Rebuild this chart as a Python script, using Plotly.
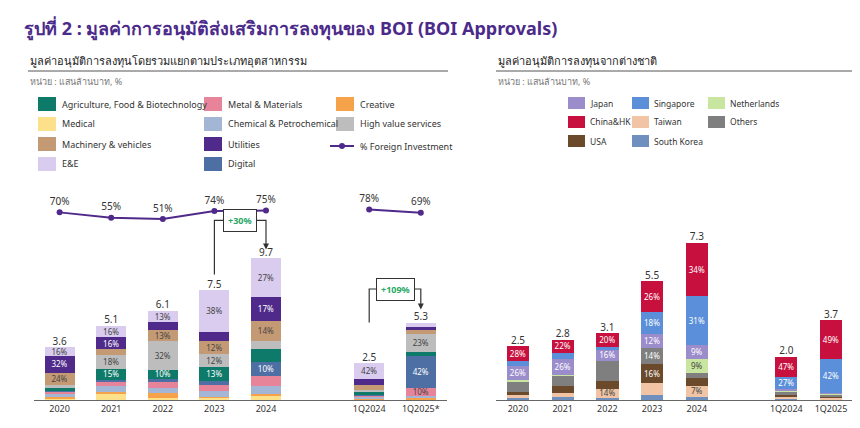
import plotly.graph_objects as go

periods = ["2020", "2021", "2022", "2023", "2024", " ", "1Q2024", "1Q2025*"]
periods_r = ["2020", "2021", "2022", "2023", "2024", " ", "1Q2024", "1Q2025"]

# left: total approvals (แสนล้านบาท) and industry shares (%)
totals_l = [3.6, 5.1, 6.1, 7.5, 9.7, None, 2.5, 5.3]
foreign_pct = [70, 55, 51, 74, 75, None, 78, 69]
industries = {
    "Medical":                          [3, 8, 2, 2, 3, None, 2, 1],
    "Creative":                         [3, 3, 6, 1, 1, None, 1, 1],
    "Chemical & Petrochemical":         [5, 8, 6, 5, 6, None, 6, 3],
    "Metal & Materials":                [5, 6, 6, 6, 7, None, 4, 10],
    "Digital":                          [2, 2, 4, 3, 10, None, 2, 42],
    "Agriculture, Food & Biotechnology": [5, 15, 10, 13, 9, None, 8, 5],
    "High value services":              [5, 18, 32, 12, 6, None, 5, 23],
    "Machinery & vehicles":             [24, 8, 13, 12, 14, None, 14, 5],
    "Utilities":                        [32, 16, 8, 8, 17, None, 16, 4],
    "E&E":                              [16, 16, 13, 38, 27, None, 42, 6],
}
ind_colors = {
    "Agriculture, Food & Biotechnology": "#0e7a6a", "Medical": "#fde08a",
    "Machinery & vehicles": "#c49a74", "E&E": "#d9ccef",
    "Metal & Materials": "#e8849a", "Chemical & Petrochemical": "#a3b6d6",
    "Utilities": "#4f2a8a", "Digital": "#4e6fa3",
    "Creative": "#f5a24b", "High value services": "#bdbdbd",
}
dark_l = {"Agriculture, Food & Biotechnology", "Utilities", "Digital"}

# right: foreign approvals and country shares (%)
totals_r = [2.5, 2.8, 3.1, 5.5, 7.3, None, 2.0, 3.7]
countries = {
    "South Korea": [3, 5, 3, 4, 2, None, 3, 1],
    "Taiwan":      [6, 6, 14, 10, 7, None, 4, 2],
    "USA":         [6, 12, 12, 16, 5, None, 5, 2],
    "Others":      [18, 17, 30, 14, 3, None, 8, 2],
    "Netherlands": [5, 2, 0, 0, 9, None, 1, 1],
    "Japan":       [26, 26, 16, 12, 9, None, 5, 1],
    "Singapore":   [8, 10, 5, 18, 31, None, 27, 42],
    "China&HK":    [28, 22, 20, 26, 34, None, 47, 49],
}
# segments whose share is printed in the reference
labelled_r = {
    "Taiwan": [2, 4], "USA": [3], "Others": [3], "Netherlands": [4],
    "Japan": [0, 1, 2, 3, 4], "Singapore": [3, 4, 6, 7], "China&HK": [0, 1, 2, 3, 4, 6, 7],
}
cty_colors = {
    "Japan": "#9b8ccc", "China&HK": "#c8103e", "USA": "#6b4a2b",
    "Singapore": "#5b8fd9", "Taiwan": "#f0c4a4", "South Korea": "#6f8fbf",
    "Netherlands": "#c8e6a0", "Others": "#7f7f7f",
}
dark_r = {"China&HK", "USA", "Singapore", "South Korea", "Others", "Japan"}

FONT = "Noto Sans"
W, H = 860, 428


def py(px):
    return 1 - px / H


def pxx(px):
    return px / W


fig = go.Figure()


def add_stack(data, colors, dark, totals, cats, xa, ya, width, show):
    for name, shares in data.items():
        y = [None if s is None or t is None else t * s / 100 for s, t in zip(shares, totals)]
        txt = [f"{s}%" if show(name, i, s) else "" for i, s in enumerate(shares)]
        fig.add_bar(x=cats, y=y, name=name, marker_color=colors[name], marker_line_width=0,
                    width=width, text=txt, textposition="inside", insidetextanchor="middle",
                    textangle=0, textfont=dict(size=9, color="white" if name in dark else "#444"),
                    xaxis=xa, yaxis=ya, showlegend=False, hoverinfo="skip")
    fig.add_scatter(x=cats, y=totals, mode="text", text=[f"{t}" if t else "" for t in totals],
                    textposition="top center", textfont=dict(size=10, color="#333"),
                    xaxis=xa, yaxis=ya, showlegend=False)


add_stack(industries, ind_colors, dark_l, totals_l, periods, "x", "y", 0.58,
          lambda n, i, s: s is not None and s >= 10 and n != "Medical" and (i != 6 or n == "E&E"))
add_stack(countries, cty_colors, dark_r, totals_r, periods_r, "x2", "y3", 0.5,
          lambda n, i, s: i in labelled_r.get(n, []))

fig.add_scatter(x=periods, y=foreign_pct, mode="lines+markers+text",
                text=[f"{v}%" if v else "" for v in foreign_pct], textposition="top center",
                textfont=dict(size=10, color="#333"), line=dict(color="#4f2a8a", width=2),
                marker=dict(size=6, color="#4f2a8a"), connectgaps=False,
                xaxis="x", yaxis="y2", showlegend=False)

axis_common = dict(showgrid=False, zeroline=False)
fig.update_layout(
    width=W, height=H, margin=dict(l=0, r=0, t=0, b=0),
    paper_bgcolor="white", plot_bgcolor="white", barmode="stack",
    uniformtext=dict(minsize=8, mode="show"),
    font=dict(family=FONT, size=10, color="#333"),
    xaxis=dict(domain=[0.03, 0.51], anchor="y", type="category", showline=True,
               linecolor="#666", ticks="", tickfont=dict(size=9), **axis_common),
    yaxis=dict(domain=[py(392), py(170)], range=[0, 15.2], visible=False, **axis_common),
    yaxis2=dict(overlaying="y", range=[-465, 168], visible=False, **axis_common),
    xaxis2=dict(domain=[0.567, 0.983], anchor="y3", type="category", showline=True,
                linecolor="#666", ticks="", tickfont=dict(size=9), **axis_common),
    yaxis3=dict(domain=[py(392), py(170)], range=[0, 10.3], visible=False, **axis_common),
)

ann = []
shapes = []


def note(x, y, text, size, color="#333", **kw):
    ann.append(dict(x=pxx(x), y=py(y), xref="paper", yref="paper", xanchor="left",
                    yanchor="middle", showarrow=False, text=text,
                    font=dict(size=size, color=color), **kw))


note(14, 20, "<b>รูปที่ 2 : มูลค่าการอนุมัติส่งเสริมการลงทุนของ BOI (BOI Approvals)</b>", 18, "#4b2a8a")
for x0, x1, sub in [(20, 440, "มูลค่าอนุมัติการลงทุนโดยรวมแยกตามประเภทอุตสาหกรรม"),
                    (488, 845, "มูลค่าอนุมัติการลงทุนจากต่างชาติ")]:
    note(x0, 52, sub, 11, "#222")
    note(x0, 74, "หน่วย : แสนล้านบาท, %", 9, "#777")
    shapes.append(dict(type="line", xref="paper", yref="paper", x0=pxx(x0), x1=pxx(x1),
                       y0=py(63), y1=py(63), line=dict(color="#555", width=1)))

# legends drawn as swatches
leg_l = [["Agriculture, Food & Biotechnology", "Metal & Materials", "Creative"],
         ["Medical", "Chemical & Petrochemical", "High value services"],
         ["Machinery & vehicles", "Utilities", None],
         ["E&E", "Digital", None]]
cols_l = [30, 196, 328]
for r, row in enumerate(leg_l):
    yc = 96 + r * 20
    for c, name in enumerate(row):
        if name is None:
            continue
        x0 = cols_l[c]
        shapes.append(dict(type="rect", xref="paper", yref="paper", x0=pxx(x0), x1=pxx(x0 + 18),
                           y0=py(yc + 7), y1=py(yc - 7), fillcolor=ind_colors[name], line_width=0))
        note(x0 + 22, yc, name, 9)
shapes.append(dict(type="line", xref="paper", yref="paper", x0=pxx(322), x1=pxx(346),
                   y0=py(138), y1=py(138), line=dict(color="#4f2a8a", width=2)))
shapes.append(dict(type="circle", xref="paper", yref="paper", x0=pxx(331), x1=pxx(337),
                   y0=py(141), y1=py(135), fillcolor="#4f2a8a", line_width=0))
note(350, 138, "% Foreign Investment", 9)

leg_r = [["Japan", "Singapore", "Netherlands"],
         ["China&HK", "Taiwan", "Others"],
         ["USA", "South Korea", None]]
cols_r = [560, 624, 700]
for r, row in enumerate(leg_r):
    yc = 95 + r * 19
    for c, name in enumerate(row):
        if name is None:
            continue
        x0 = cols_r[c]
        shapes.append(dict(type="rect", xref="paper", yref="paper", x0=pxx(x0), x1=pxx(x0 + 17),
                           y0=py(yc + 6), y1=py(yc - 6), fillcolor=cty_colors[name], line_width=0))
        note(x0 + 20, yc, name, 8.5)

# growth callouts
for xa, xb, y_start, y_top, y_end, label in [(3, 4, 8.6, 12.3, 10.6, "+30%"),
                                             (6, 7, 5.3, 7.6, 6.5, "+109%")]:
    shapes.append(dict(type="path", xref="x", yref="y",
                       path=f"M {xa} {y_start} L {xa} {y_top} L {xb} {y_top} L {xb} {y_end}",
                       line=dict(color="#333", width=1.2)))
    ann.append(dict(x=xb, y=y_end - 0.3, ax=xb, ay=y_end, xref="x", yref="y", axref="x", ayref="y",
                    text="", showarrow=True, arrowhead=2, arrowsize=1.2, arrowcolor="#333"))
    ann.append(dict(x=(xa + xb) / 2, y=y_top, xref="x", yref="y", showarrow=False, text=f"<b>{label}</b>",
                    font=dict(size=9, color="#2aa866"), bgcolor="white", bordercolor="#333",
                    borderwidth=1, borderpad=4))

fig.update_layout(annotations=ann, shapes=shapes)
fig.write_html("out.html")
